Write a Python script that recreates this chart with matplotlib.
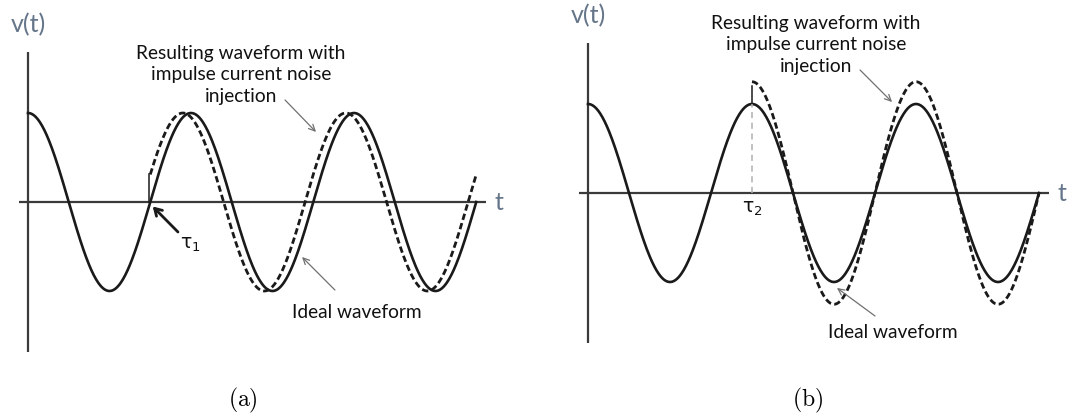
import numpy as np
import matplotlib
matplotlib.use('Agg')
import matplotlib.pyplot as plt

# waveform description: time in periods, voltage in units of the ideal amplitude
ideal_amp = 1.0
t_end = 2.75          # both traces stop 2.75 periods after t = 0
tau1 = 0.75           # (a) injection at the rising zero crossing
lead_a = 0.05         # (a) phase lead after injection, periods
tau2 = 1.0            # (b) injection at the second peak
gain_b = 1.25         # (b) amplitude after injection
note_top = 'Resulting waveform with\nimpulse current noise\ninjection'
note_low = 'Ideal waveform'
captions = ['(a)', '(b)']

W, H = 1087, 420
INK = '#1a1a1a'
AXIS = '#3a3a3a'
LABEL = '#66768a'
FONT = ['Lato', 'DejaVu Sans']

fig = plt.figure(figsize=(W / 100, H / 100), dpi=100)


def panel(box, origin, period, amp):
    # axes whose data units are periods / amplitudes, placed by pixel box
    x0, y0, x1, y1 = box
    ax = fig.add_axes([x0 / W, 1 - y1 / H, (x1 - x0) / W, (y1 - y0) / H])
    ax.set_xlim((x0 - origin[0]) / period, (x1 - origin[0]) / period)
    ax.set_ylim((origin[1] - y1) / amp, (origin[1] - y0) / amp)
    ax.axis('off')
    return ax


def frame(ax):
    ax.plot([0, 0], [-1.69, 1.69], color=AXIS, lw=1.6, solid_capstyle='butt')
    ax.plot([-0.055, 2.81], [0, 0], color=AXIS, lw=1.6, solid_capstyle='butt')
    ax.text(0, 1.99, 'v(t)', color=LABEL, fontsize=18, family=FONT,
            ha='center', va='center')
    ax.text(2.89, 0, 't', color=LABEL, fontsize=18, family=FONT,
            ha='center', va='center')


def ideal(ax):
    t = np.linspace(0, t_end, 600)
    ax.plot(t, ideal_amp * np.cos(2 * np.pi * t), color=INK, lw=1.9)


def pointer(ax, text, xy, xytext, tpos):
    ax.annotate('', xy=xy, xytext=xytext,
                arrowprops=dict(arrowstyle='->,head_length=0.45,head_width=0.22',
                                color='#707070', lw=0.9, shrinkA=0, shrinkB=0))
    ax.text(*tpos, text, fontsize=13.8, family=FONT, ha='center', va='center',
            linespacing=1.3, color='#111111')


def tau_label(ax, pos, sub):
    ax.text(*pos, r'$\mathrm{\tau}_{%s}$' % sub, fontsize=13.5,
            ha='center', va='center', color='#111111')


dash = (0, (2.3, 1.2))

# (a) phase jump at tau1
axa = panel((0, 0, 540, 380), (28, 202), 163, 89)
frame(axa)
ideal(axa)
ta = np.linspace(tau1, t_end, 500)
va = ideal_amp * np.cos(2 * np.pi * (ta + lead_a))
axa.plot(ta, va, color=INK, lw=2.0, ls=dash)
axa.plot([tau1 - 0.01, tau1 - 0.01], [0, va[0]], color=INK, lw=1.1)
pointer(axa, note_top, (1.767, 0.787), (1.577, 1.146), (1.307, 1.427))
pointer(axa, note_low, (1.681, -0.618), (1.883, -0.989), (2.018, -1.247))
axa.annotate('', xy=(0.765, -0.05), xytext=(0.920, -0.337),
             arrowprops=dict(arrowstyle='->,head_length=0.5,head_width=0.3',
                             color=INK, lw=2.0, shrinkA=0, shrinkB=0))
tau_label(axa, (0.994, -0.483), '1')

# (b) amplitude jump at tau2
axb = panel((545, 0, 1087, 380), (588, 193), 164, 89)
frame(axb)
ideal(axb)
tb = np.linspace(tau2, t_end, 500)
vb = gain_b * ideal_amp * np.cos(2 * np.pi * tb)
axb.plot(tb, vb, color=INK, lw=2.0, ls=dash)
axb.plot([tau2, tau2], [ideal_amp, 1.2], color=INK, lw=1.1)
axb.plot([tau2, tau2], [0, ideal_amp], color='#b0b0b0', lw=1.1, ls=(0, (4, 3)))
pointer(axb, note_top, (1.854, 1.022), (1.659, 1.382), (1.39, 1.663))
pointer(axb, note_low, (1.518, -1.067), (1.750, -1.382), (1.860, -1.562))
tau_label(axb, (1.0, -0.17), '2')

for cap, xc in zip(captions, [243, 808]):
    fig.text(xc / W, 1 - 400 / H, r'$\mathrm{%s}$' % cap, fontsize=17,
             math_fontfamily='cm', ha='center', va='center')

fig.savefig('out.png', dpi=100, facecolor='white')
